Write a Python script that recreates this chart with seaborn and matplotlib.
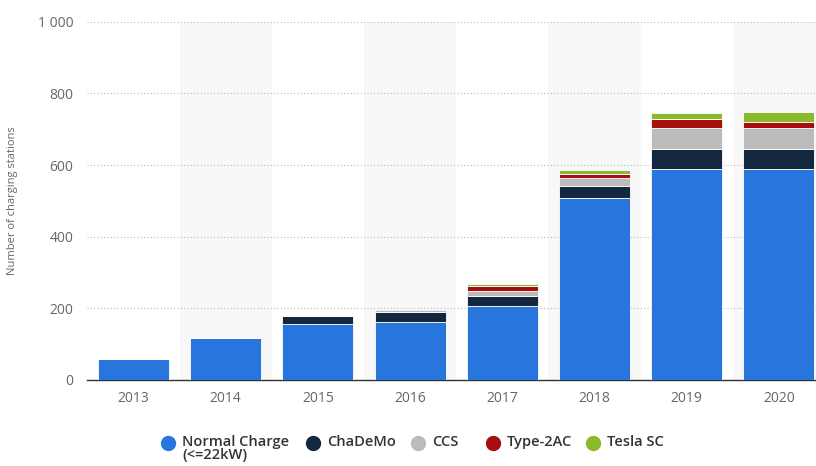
import matplotlib
matplotlib.use("Agg")
import matplotlib.pyplot as plt
from matplotlib.lines import Line2D
import numpy as np
import pandas as pd
import seaborn as sns

years = ["2013", "2014", "2015", "2016", "2017", "2018", "2019", "2020"]
normal_charge = [58, 117, 156, 162, 205, 509, 588, 588]
chademo = [0, 0, 22, 28, 28, 33, 58, 58]
ccs = [0, 0, 0, 6, 16, 21, 57, 57]
type2ac = [0, 0, 0, 3, 12, 12, 27, 17]
tesla_sc = [0, 0, 0, 0, 8, 10, 15, 27]

series_names = ["Normal Charge\n(<=22kW)", "ChaDeMo", "CCS", "Type-2AC", "Tesla SC"]
series_values = [normal_charge, chademo, ccs, type2ac, tesla_sc]
colors = ["#2876dd", "#13283f", "#bbbbbb", "#a70f0f", "#8aba2b"]

sns.set_theme(style="white")
plt.rcParams["font.family"] = ["Open Sans", "DejaVu Sans"]

W, H = 816, 466
fig = plt.figure(figsize=(W / 100, H / 100), dpi=100)
ax = fig.add_axes([0.107, 0.185, 0.904, 0.768])

# alternating background bands
for i in range(len(years)):
    if i % 2 == 1:
        ax.axvspan(i - 0.5, i + 0.5, color="#f8f8f8", zorder=0, lw=0)

bottom = np.zeros(len(years))
for name, vals, col in zip(series_names, series_values, colors):
    df = pd.DataFrame({"year": years, "value": vals})
    sns.barplot(data=df, x="year", y="value", order=years, color=col,
                bottom=bottom, width=0.77, edgecolor="white", linewidth=0.6,
                saturation=1, ax=ax, zorder=3, errorbar=None)
    bottom = bottom + np.array(vals)

ax.set_xlim(-0.5, len(years) - 0.5)
ax.set_ylim(0, 1000)
ax.set_yticks([0, 200, 400, 600, 800, 1000])
ax.set_yticklabels(["0", "200", "400", "600", "800", "1 000"])
ax.yaxis.grid(True, linestyle=(0, (1, 2)), color="#bbbbbb", linewidth=0.8, zorder=1)
ax.set_axisbelow(True)
for s in ["top", "right", "left"]:
    ax.spines[s].set_visible(False)
ax.spines["bottom"].set_color("#333333")
ax.spines["bottom"].set_linewidth(1)
ax.tick_params(axis="both", length=0, labelsize=10, colors="#666666", pad=10)
ax.tick_params(axis="x", pad=8)
ax.set_xlabel("")
ax.set_ylabel("Number of charging stations", fontsize=8, color="#666666", labelpad=14)

# legend row below the plot: circle marker with bold label, first line aligned
marker_x = [168, 313, 418, 493, 593]
legend_y = 1 - 443 / H
for mx, name, col in zip(marker_x, series_names, colors):
    fig.add_artist(Line2D([mx / W], [legend_y], marker="o", linestyle="",
                          markersize=10, markerfacecolor=col, markeredgecolor=col,
                          transform=fig.transFigure))
    fig.text((mx + 14) / W, legend_y + 8 / H, name, ha="left", va="top",
             fontsize=10.5, fontweight="semibold", color="#333333", linespacing=0.95)

fig.savefig("out.png", dpi=100)
